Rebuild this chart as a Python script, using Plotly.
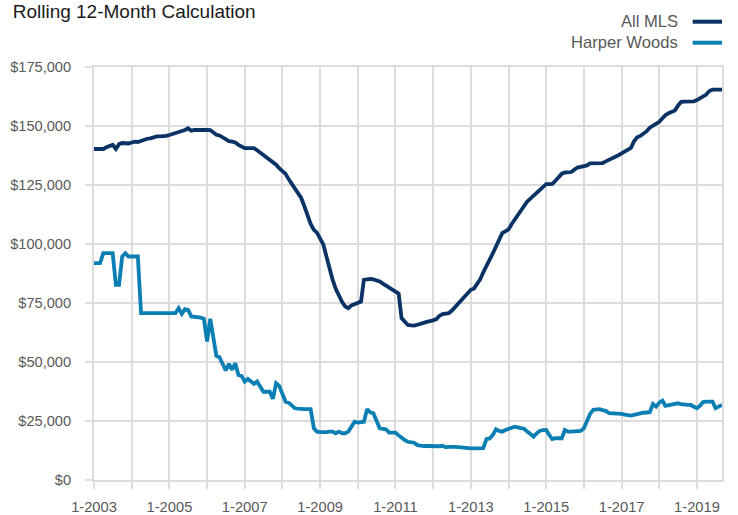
import pandas as pd
import plotly.graph_objects as go

dates = pd.date_range("2003-01-01", periods=201, freq="MS")

all_mls = [
    140250, 140250, 140250, 140250, 141000, 141650, 142000, 140250, 142300, 142800, 142500, 142600, 143000,
    143400, 143200, 143700, 144300, 144600, 144800, 145400, 145600, 145600, 145600, 145800, 146200,
    146600, 147000, 147600, 147700, 148300, 149000, 148000, 148300, 148400, 148400, 148400, 148400,
    148300, 147200, 146300, 146000, 145200, 144200, 143600, 143400, 143000, 142000, 141200, 140600,
    140600, 140600, 140600, 139700, 138700, 137900, 136800, 135900, 134600, 133600, 132100, 130800,
    129700, 127500, 125500, 123400, 121500, 119500, 116000, 111500, 108500, 106000, 104800, 102300,
    99800, 95000, 89500, 85000, 81000, 78000, 75500, 73500, 72800, 74000, 74500, 75200,
    75600, 84800, 85200, 85200, 85000, 84600, 84100, 83200, 82400, 81200, 80300, 79500,
    79000, 68600, 67000, 65700, 65500, 65400, 65800, 66400, 66600, 67000, 67100, 67600,
    68200, 69500, 70300, 70600, 70700, 71800, 73300, 74700, 76000, 77500, 79000, 80600,
    81200, 83200, 85000, 88000, 90500, 93000, 96000, 98900, 101800, 104600, 105400, 106200,
    108500, 110300, 112500, 113800, 116000, 118000, 119200, 120500, 121600, 122600, 124200, 125400,
    125400, 125500, 126800, 128500, 129800, 130300, 130400, 130500, 131500, 132400, 132700, 132900,
    133300, 134200, 134300, 134300, 134300, 134300, 135000, 135600, 136000, 137000, 137600, 138400,
    139300, 140000, 140700, 143500, 145200, 145800, 146600, 147800, 149300, 150100, 150700, 151800,
    153300, 154600, 155400, 156000, 156600, 158600, 160200, 160300, 160300, 160300, 160400, 161000,
    161800, 162700, 163300, 164800, 165400, 165400, 165400, 165400,
]

harper_woods = [
    91900, 91900, 91900, 96100, 96100, 96100, 96100, 82700, 82700, 94700, 96100, 94700, 94700,
    94700, 94700, 70700, 70700, 70700, 70700, 70700, 70700, 70700, 70700, 70700, 70700,
    70700, 70700, 72800, 70400, 72400, 72100, 69300, 69200, 69000, 68800, 68300, 58700,
    68300, 60500, 52600, 52000, 49000, 46400, 49200, 46700, 49500, 44500, 44100, 41700,
    42800, 41700, 40700, 41700, 39500, 37400, 37400, 37400, 34400, 41000, 39900, 36500,
    33200, 32800, 31600, 30400, 30200, 30000, 30000, 30000, 30000, 21900, 20500, 20300,
    20100, 20300, 20500, 20500, 19800, 20500, 19800, 19800, 20500, 22600, 24700, 24300,
    24500, 24700, 30000, 28700, 28300, 25000, 21900, 21700, 21500, 20100, 20100, 20100,
    18900, 17700, 16900, 16200, 16000, 15800, 14800, 14500, 14400, 14400, 14300, 14200,
    14100, 14300, 14500, 13900, 14000, 14100, 14000, 13900, 13700, 13400, 13400, 13400,
    13400, 13400, 13400, 13500, 17300, 17600, 19000, 21500, 20800, 20500, 21200, 21500,
    22100, 22600, 22400, 22300, 21700, 20500, 19500, 18400, 19800, 20900, 21100, 21200,
    19000, 17300, 17700, 17700, 17700, 21200, 20500, 20500, 20500, 20500, 20800, 21900,
    25000, 28000, 29700, 30000, 30000, 29600, 29300, 28300, 28300, 28300, 28300, 28000,
    27700, 27500, 27300, 27600, 28000, 28300, 28500, 28600, 28700, 32200, 31100, 32800,
    33600, 31400, 31700, 31800, 32200, 32500, 32200, 31800, 31800, 31800, 31200, 30400,
    31500, 33000, 33200, 33200, 33200, 30400, 30900, 31800,
]

x_tick_years = list(range(2003, 2020))
x_tick_labels = [f"1-{y}" if (y - 2003) % 2 == 0 else "" for y in x_tick_years]
y_tick_values = [0, 25000, 50000, 75000, 100000, 125000, 150000, 175000]
y_tick_labels = ["$0", "$25,000", "$50,000", "$75,000", "$100,000", "$125,000", "$150,000", "$175,000"]

series_names = ["All MLS", "Harper Woods"]
series_colors = ["#0a3264", "#0b7fb4"]

FONT = "Liberation Sans, Arial, sans-serif"
GRID = "#dcdcdc"
TXT = "#595959"

fig = go.Figure()
for name, vals, col in zip(series_names, [all_mls, harper_woods], series_colors):
    fig.add_trace(go.Scatter(x=dates, y=vals, mode="lines", name=name,
                             line=dict(color=col, width=3.8), showlegend=False,
                             hoverinfo="skip"))

# custom legend: text right-aligned, line key on the right
legend_y = [1.1097, 1.0588]
for name, col, ly in zip(series_names, series_colors, legend_y):
    fig.add_annotation(xref="paper", yref="paper", x=0.933, y=ly, text=name,
                       showarrow=False, xanchor="right", yanchor="middle",
                       font=dict(family=FONT, size=16.6, color=TXT))
    fig.add_shape(type="line", xref="paper", yref="paper", x0=0.9533, x1=1.0,
                  y0=ly, y1=ly, line=dict(color=col, width=4))

fig.update_layout(
    width=738, height=515,
    margin=dict(l=94, r=16, t=67, b=35, autoexpand=False),
    paper_bgcolor="white", plot_bgcolor="white",
    title=dict(text="Rolling 12-Month Calculation", x=12.7 / 738, xanchor="left",
               xref="container", y=1 - 11 / 515, yanchor="middle", yref="container",
               font=dict(family=FONT, size=19, color="#1a1a1a")),
)
fig.update_xaxes(
    type="date", range=["2003-01-01", "2019-09-01"],
    tickvals=[f"{y}-01-01" for y in x_tick_years], ticktext=x_tick_labels,
    showgrid=True, gridcolor=GRID, gridwidth=2,
    ticks="outside", ticklen=7, tickwidth=2, tickcolor=GRID,
    showline=True, mirror=True, linecolor=GRID, linewidth=2,
    tickfont=dict(family=FONT, size=14.7, color=TXT), ticklabelstandoff=5,
    zeroline=False,
)
fig.update_yaxes(
    range=[0, 175000], tickvals=y_tick_values, ticktext=y_tick_labels,
    showgrid=True, gridcolor=GRID, gridwidth=2,
    ticks="outside", ticklen=7, tickwidth=2, tickcolor=GRID,
    showline=True, mirror=True, linecolor=GRID, linewidth=2,
    tickfont=dict(family=FONT, size=14.6, color=TXT), ticklabelstandoff=11,
    zeroline=False,
)

fig.write_html("out.html", config={"displayModeBar": False},
               post_script="document.body.style.margin='0';")
